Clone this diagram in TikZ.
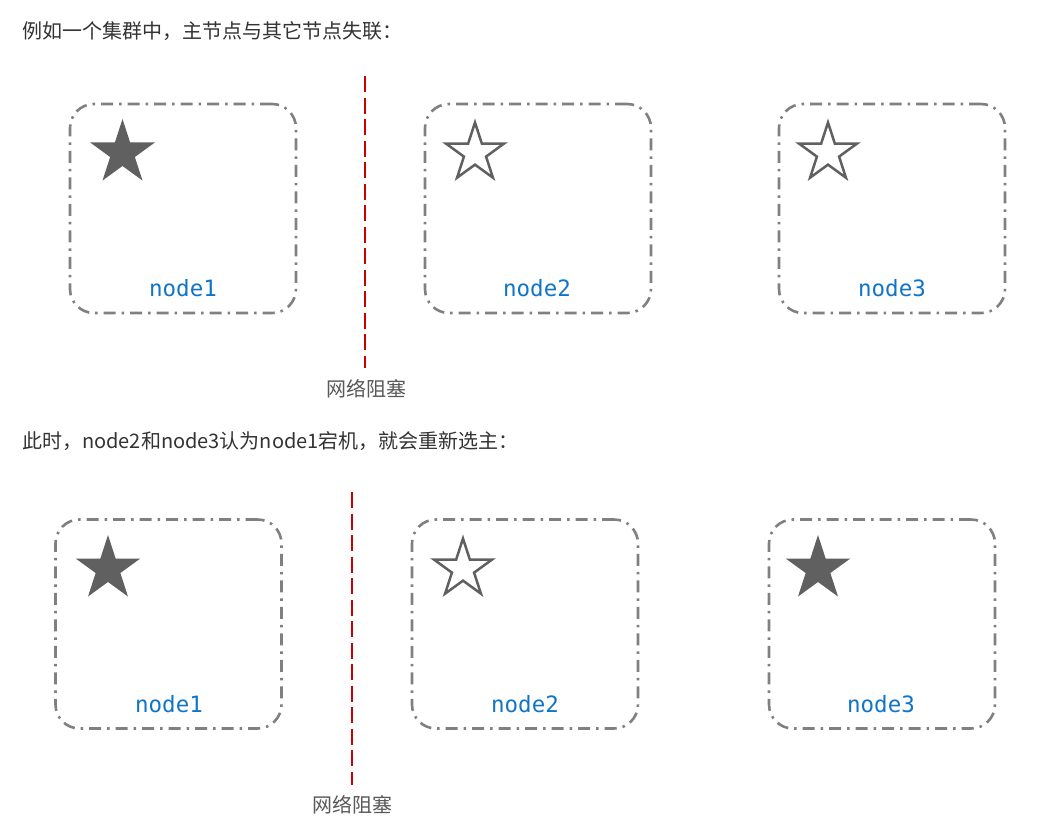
\documentclass[tikz,border=0pt]{standalone}
\usepackage{fontspec}
\setmainfont{Noto Sans CJK SC}
\newfontfamily\monofnt{DejaVu Sans Mono}
\usetikzlibrary{shapes.geometric}
\definecolor{boxgray}{RGB}{128,128,128}
\definecolor{starc}{RGB}{96,96,96}
\definecolor{nodeblue}{RGB}{17,117,199}
\definecolor{redc}{RGB}{200,0,0}
\definecolor{labgray}{RGB}{89,89,89}
\definecolor{headc}{RGB}{51,51,51}
\tikzset{
  box/.style={draw=boxgray, line width=2.6pt, rounded corners=24pt,
    dash pattern=on 12pt off 6pt on 2.5pt off 6pt,
    minimum width=226pt, minimum height=209pt, inner sep=0pt},
  fstar/.style={star, star points=5, star point ratio=2.618, minimum size=68pt,
    inner sep=0pt, fill=starc, draw=none},
  hstar/.style={star, star points=5, star point ratio=2.618, minimum size=61pt,
    inner sep=0pt, fill=white, draw=starc, line width=2.5pt},
  nlabel/.style={anchor=base, text=nodeblue, font=\monofnt\fontsize{22.5}{26}\selectfont, inner sep=0pt},
  redline/.style={draw=redc, line width=2.2pt, dash pattern=on 16pt off 5.5pt},
  blabel/.style={text=labgray, font=\fontsize{20}{24}\selectfont, inner sep=0pt},
  heading/.style={anchor=west, text=headc, font=\fontsize{20}{24}\selectfont, inner sep=0pt}
}
\begin{document}
\begin{tikzpicture}[x=1pt,y=-1pt]
\useasboundingbox (0,0) rectangle (1058,831);
\fill[white] (0,0) rectangle (1058,831);

% ---- top scene
\node[heading] (h1) at (22,31) {例如一个集群中，主节点与其它节点失联：};

\node[box] (a1) at (183,208.5) {};
\node[box] (a2) at (538,208.5) {};
\node[box] (a3) at (892,208.5) {};

\node[fstar] (as1) at (122.5,153) {};
\node[hstar] (as2) at (475,153) {};
\node[hstar] (as3) at (828,153) {};

\node[nlabel] (an1) at (183,296) {node1};
\node[nlabel] (an2) at (537,296) {node2};
\node[nlabel] (an3) at (892,296) {node3};

\coordinate (r1t) at (365,76);
\coordinate (r1b) at (365,368);
\draw[redline] (r1t) -- (r1b);
\node[blabel] (bl1) at (366,389) {网络阻塞};

% ---- bottom scene
\node[heading] (h2) at (22,441) {此时，node2和node3认为node1宕机，就会重新选主：};

\node[box] (c1) at (168.5,624) {};
\node[box] (c2) at (525,624) {};
\node[box] (c3) at (882,624) {};

\node[fstar] (cs1) at (108,569) {};
\node[hstar] (cs2) at (463,569) {};
\node[fstar] (cs3) at (818,569) {};

\node[nlabel] (cn1) at (169,712) {node1};
\node[nlabel] (cn2) at (525,712) {node2};
\node[nlabel] (cn3) at (881,712) {node3};

\coordinate (r2t) at (352,492);
\coordinate (r2b) at (352,785);
\draw[redline] (r2t) -- (r2b);
\node[blabel] (bl2) at (352,805) {网络阻塞};
\end{tikzpicture}
\end{document}
